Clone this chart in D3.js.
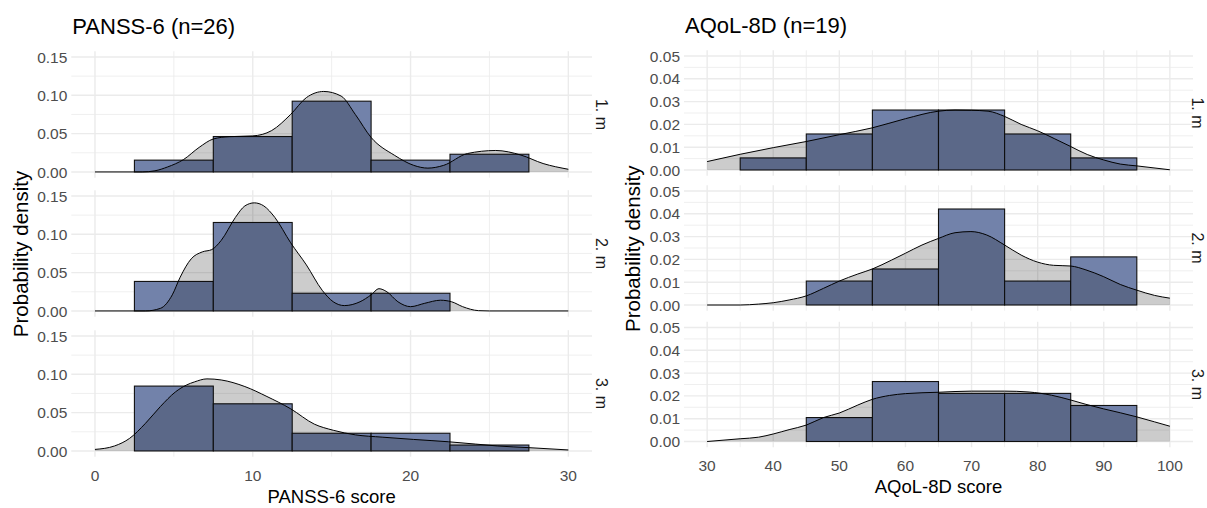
<!DOCTYPE html>
<html><head><meta charset="utf-8">
<script src="https://cdn.jsdelivr.net/npm/d3@7"></script>
<style>
body{margin:0;background:#fff}
svg{display:block}
text{font-family:"Liberation Sans",Arial,sans-serif}
</style>
</head><body>
<svg id="c" width="1207" height="508"></svg>
<script>
// ---------- DATA ----------
const facets = ["1. m", "2. m", "3. m"];

// PANSS-6 histogram (binwidth 5), density per bin
const panssCenters = [5, 10, 15, 20, 25];
const panssHist1 = [0.0154, 0.0462, 0.0923, 0.0154, 0.0231];
const panssHist2 = [0.0385, 0.1154, 0.0231, 0.0231, 0];
const panssHist3 = [0.0846, 0.0615, 0.0231, 0.0231, 0.0077];

// PANSS-6 density curves [score, density]
const panssDens1 = [[0,0],[3,0],[3.8,0.0015],[4.6,0.0065],[5.6,0.016],[6.6,0.032],[7.5,0.043],[8.5,0.046],[10,0.047],[11.2,0.054],[12.4,0.075],[13.4,0.097],[14.5,0.105],[15.6,0.099],[16.5,0.075],[17.5,0.045],[19,0.0215],[20.2,0.0086],[21.1,0.005],[22.1,0.0086],[23.6,0.024],[25.4,0.028],[27,0.022],[28.4,0.011],[30,0.0035]];
const panssDens2 = [[0,0],[3.2,0],[4.15,0.0034],[4.9,0.021],[5.4,0.044],[6.1,0.068],[6.8,0.077],[7.4,0.080],[8.0,0.092],[8.9,0.122],[9.5,0.137],[10.1,0.141],[10.7,0.137],[11.4,0.122],[12.4,0.089],[13.4,0.060],[14.4,0.027],[15.1,0.012],[15.8,0.007],[16.8,0.012],[17.5,0.021],[18,0.029],[18.5,0.025],[19.2,0.012],[20,0.0056],[20.9,0.010],[21.9,0.014],[22.6,0.012],[23.3,0.0056],[24.3,0.0004],[25,0],[30,0]];
const panssDens3 = [[0,0.002],[1.24,0.0065],[2.2,0.0165],[3.2,0.036],[4.15,0.058],[5.1,0.077],[5.8,0.086],[6.3,0.090],[7.1,0.094],[8.0,0.0926],[9.5,0.084],[10.9,0.071],[12.4,0.055],[13.9,0.035],[15.1,0.027],[16.5,0.021],[18.2,0.018],[20.2,0.015],[22.4,0.012],[24.1,0.009],[25.5,0.0065],[27.5,0.0043],[30,0.0013]];

// AQoL-8D histogram (binwidth 10)
const aqolCenters = [40, 50, 60, 70, 80, 90];
const aqolHist1 = [0.0053, 0.0158, 0.0263, 0.0263, 0.0158, 0.0053];
const aqolHist2 = [0, 0.0105, 0.0158, 0.0421, 0.0105, 0.0211];
const aqolHist3 = [0, 0.0105, 0.0263, 0.0211, 0.0211, 0.0158];

// AQoL-8D density curves
const aqolDens1 = [[30,0.0037],[35,0.0069],[40,0.0098],[45,0.0125],[50,0.0155],[55,0.0185],[60,0.0225],[65,0.0258],[67.5,0.0263],[70,0.0262],[72.5,0.0258],[75,0.0235],[77.5,0.020],[80,0.0172],[82.5,0.0138],[85,0.0103],[87.5,0.0068],[90,0.0044],[92.5,0.0026],[95,0.0018],[100,0.0001]];
const aqolDens2 = [[30,0],[35,0],[37.8,0.0004],[40,0.001],[42.4,0.0022],[45,0.004],[47.6,0.0073],[50,0.0105],[52.8,0.0136],[55,0.0158],[57.9,0.0197],[60,0.0227],[62.5,0.0263],[65,0.0292],[67.5,0.0317],[69.9,0.0322],[72.3,0.0307],[75,0.0263],[77.5,0.0219],[80,0.0188],[82.4,0.0174],[85,0.0171],[87.3,0.0154],[90,0.0124],[92.5,0.0090],[95,0.0065],[97.7,0.0042],[100,0.0030]];
const aqolDens3 = [[30,0],[35,0.0012],[37.8,0.0019],[40,0.0033],[42.4,0.0052],[45,0.0072],[47.6,0.0105],[50,0.0125],[52.8,0.016],[55,0.0185],[57.6,0.0202],[60,0.021],[65,0.0216],[70,0.0221],[75,0.0221],[78.7,0.0217],[82.1,0.0203],[85,0.0182],[87.3,0.0163],[90,0.0143],[92.5,0.0126],[95,0.0108],[97.7,0.0086],[100,0.0067]];

// axis ticks
const panssXTicks = [0, 10, 20, 30];
const panssXMinor = [5, 15, 25];
const panssYTicks = [0, 0.05, 0.10, 0.15];
const panssYMinor = [0.025, 0.075, 0.125];
const aqolXTicks = [30, 40, 50, 60, 70, 80, 90, 100];
const aqolXMinor = [35, 45, 55, 65, 75, 85, 95];
const aqolYTicks = [0, 0.01, 0.02, 0.03, 0.04, 0.05];
const aqolYMinor = [0.005, 0.015, 0.025, 0.035, 0.045];

// ---------- DRAW ----------
const svg = d3.select("#c");
const BAR = "#7282aa";

function drawPlot(cfg) {
  const g = svg.append("g");
  const x = d3.scaleLinear().domain(cfg.xDomain).range([cfg.left, cfg.right]);
  // title
  g.append("text").attr("x", cfg.left + 1).attr("y", cfg.titleY)
    .attr("font-size", 22).attr("fill", "#000").text(cfg.title);

  cfg.tops.forEach((top, i) => {
    const y = d3.scaleLinear().domain(cfg.yDomain).range([top + cfg.height, top]);
    const pg = g.append("g");
    // minor grid
    cfg.yMinor.forEach(v => pg.append("line").attr("x1", cfg.left).attr("x2", cfg.right)
      .attr("y1", y(v)).attr("y2", y(v)).attr("stroke", "#ebebeb").attr("stroke-width", 0.8));
    cfg.xMinor.forEach(v => pg.append("line").attr("y1", top).attr("y2", top + cfg.height)
      .attr("x1", x(v)).attr("x2", x(v)).attr("stroke", "#ebebeb").attr("stroke-width", 0.8));
    // major grid
    cfg.yTicks.forEach(v => pg.append("line").attr("x1", cfg.left).attr("x2", cfg.right)
      .attr("y1", y(v)).attr("y2", y(v)).attr("stroke", "#ebebeb").attr("stroke-width", 1.4));
    cfg.xTicks.forEach(v => pg.append("line").attr("y1", top).attr("y2", top + cfg.height)
      .attr("x1", x(v)).attr("x2", x(v)).attr("stroke", "#ebebeb").attr("stroke-width", 1.4));
    // y tick labels
    cfg.yTicks.forEach(v => pg.append("text").attr("x", cfg.left - 4).attr("y", y(v))
      .attr("dy", "0.36em").attr("text-anchor", "end").attr("font-size", 15.5)
      .attr("fill", "#4d4d4d").text(d3.format(".2f")(v)));
    // bars
    const hist = cfg.hists[i];
    pg.selectAll("rect.bar").data(cfg.centers.map((c, k) => ({c, v: hist[k]})))
      .enter().append("rect").attr("class", "bar")
      .attr("x", d => x(d.c - cfg.binW / 2))
      .attr("width", d => x(d.c + cfg.binW / 2) - x(d.c - cfg.binW / 2))
      .attr("y", d => y(d.v)).attr("height", d => y(0) - y(d.v))
      .attr("fill", BAR).attr("stroke", "#111").attr("stroke-width", 1.1);
    // density
    const dens = cfg.dens[i];
    const area = d3.area().x(d => x(d[0])).y0(y(0)).y1(d => y(d[1])).curve(d3.curveMonotoneX);
    const line = d3.line().x(d => x(d[0])).y(d => y(d[1])).curve(d3.curveMonotoneX);
    pg.append("path").attr("d", area(dens)).attr("fill", "#000").attr("fill-opacity", 0.2);
    pg.append("path").attr("d", line(dens)).attr("fill", "none").attr("stroke", "#000").attr("stroke-width", 1);
    // strip label
    const cy = top + cfg.height / 2;
    pg.append("text").attr("transform", `translate(${cfg.stripX},${cy}) rotate(90)`)
      .attr("text-anchor", "middle").attr("dominant-baseline", "central")
      .attr("font-size", 16).attr("fill", "#1a1a1a").text(facets[i]);
  });

  const bottom = cfg.tops[cfg.tops.length - 1] + cfg.height;
  cfg.xTicks.forEach(v => g.append("text").attr("x", x(v)).attr("y", bottom + 24)
    .attr("text-anchor", "middle").attr("font-size", 15.5).attr("fill", "#4d4d4d").text(v));
  g.append("text").attr("x", (cfg.left + cfg.right) / 2).attr("y", bottom + 46)
    .attr("text-anchor", "middle").attr("font-size", 18.5).attr("fill", "#000").text(cfg.xTitle);
  const midY = (cfg.tops[0] + bottom) / 2;
  g.append("text").attr("transform", `translate(${cfg.yTitleX},${midY}) rotate(-90)`)
    .attr("text-anchor", "middle").attr("dominant-baseline", "central")
    .attr("font-size", 20.5).attr("fill", "#000").text("Probability density");
}

drawPlot({
  title: "PANSS-6 (n=26)", titleY: 34, xTitle: "PANSS-6 score",
  left: 71.3, right: 592, xDomain: [-1.5, 31.5],
  tops: [51.2, 190.2, 330.2], height: 126.5, yDomain: [-0.0075, 0.1575],
  xTicks: panssXTicks, xMinor: panssXMinor, yTicks: panssYTicks, yMinor: panssYMinor,
  centers: panssCenters, binW: 5,
  hists: [panssHist1, panssHist2, panssHist3],
  dens: [panssDens1, panssDens2, panssDens3],
  stripX: 601, yTitleX: 20
});

drawPlot({
  title: "AQoL-8D (n=19)", titleY: 33, xTitle: "AQoL-8D score",
  left: 684, right: 1193, xDomain: [26.5, 103.5],
  tops: [50.3, 185.3, 321.8], height: 125.4, yDomain: [-0.0025, 0.0525],
  xTicks: aqolXTicks, xMinor: aqolXMinor, yTicks: aqolYTicks, yMinor: aqolYMinor,
  centers: aqolCenters, binW: 10,
  hists: [aqolHist1, aqolHist2, aqolHist3],
  dens: [aqolDens1, aqolDens2, aqolDens3],
  stripX: 1197, yTitleX: 632
});
</script>
</body></html>
